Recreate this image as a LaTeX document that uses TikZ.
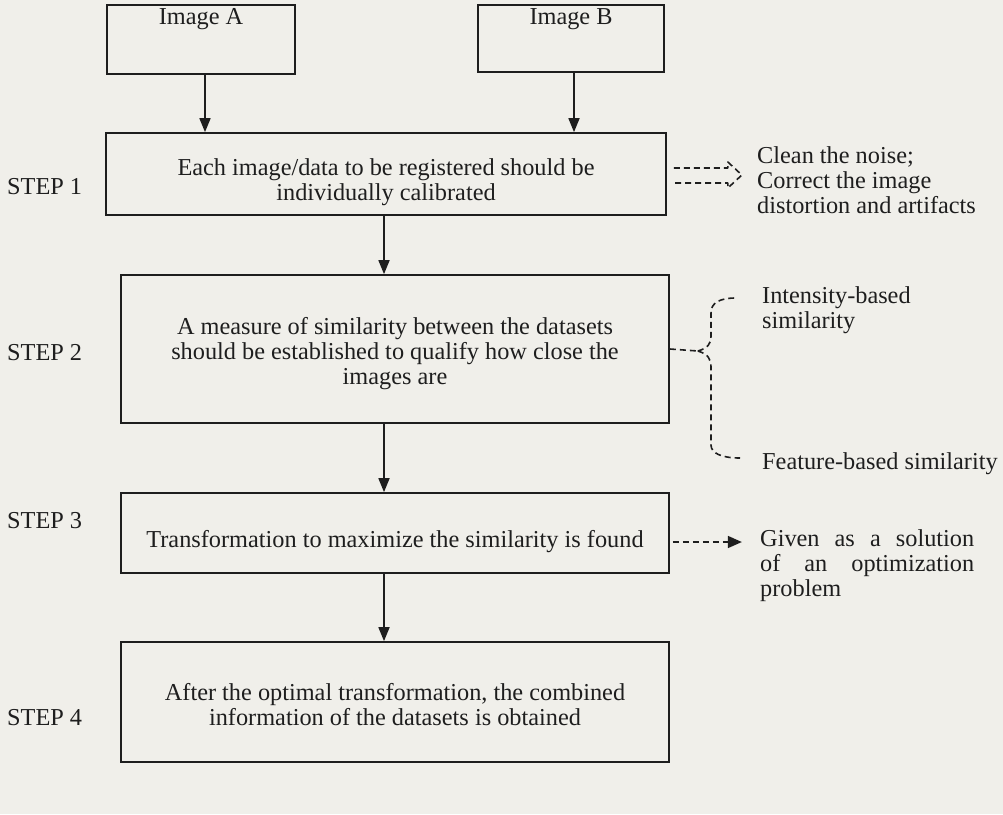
\documentclass[tikz,border=0pt]{standalone}
\usepackage{fontspec}
\setmainfont{Liberation Serif}
\usetikzlibrary{arrows.meta,calc}
\definecolor{paper}{RGB}{240,239,234}
\definecolor{ink}{RGB}{30,30,30}
\begin{document}
\begin{tikzpicture}[x=1pt,y=-1pt,
  every node/.style={font=\fontsize{24.3}{25}\selectfont, text=ink},
  box/.style={draw=ink, line width=1.7pt, inner sep=0pt},
  txt/.style={align=center, inner sep=0pt},
  side/.style={align=left, anchor=west, inner sep=0pt},
  arr/.style={draw=ink, line width=1.7pt, -{Triangle[length=14pt,width=11pt]}},
  dsh/.style={draw=ink, line width=1.6pt, dash pattern=on 6pt off 4pt}]
\fill[paper] (0,0) rectangle (1003,814);
\useasboundingbox (0,0) rectangle (1003,814);
% boxes
\node[box, minimum width=188pt, minimum height=69pt] (A) at (201,39.5) {};
\node[box, minimum width=186pt, minimum height=67pt] (B) at (571,38.5) {};
\node[box, minimum width=560pt, minimum height=82pt] (S1) at (386,174) {};
\node[box, minimum width=548pt, minimum height=148pt] (S2) at (395,349) {};
\node[box, minimum width=548pt, minimum height=80pt] (S3) at (395,533) {};
\node[box, minimum width=548pt, minimum height=120pt] (S4) at (395,702) {};
% texts in boxes
\node[txt] (tA) at (201,19) {Image A};
\node[txt] (tB) at (571,19) {Image B};
\node[txt] (t1) at (386,182) {Each image/data to be registered should be\\individually calibrated};
\node[txt] (t2) at (395,354) {A measure of similarity between the datasets\\should be established to qualify how close the\\images are};
\node[txt] (t3) at (395,542) {Transformation to maximize the similarity is found};
\node[txt] (t4) at (395,705) {After the optimal transformation, the combined\\information of the datasets is obtained};
% step labels
\node[side] (l1) at (7,187) {STEP 1};
\node[side] (l2) at (7,353) {STEP 2};
\node[side] (l3) at (7,521) {STEP 3};
\node[side] (l4) at (7,718) {STEP 4};
% main arrows
\draw[arr] (205,0 |- A.south) -- (205,0 |- S1.north);
\draw[arr] (574,0 |- B.south) -- (574,0 |- S1.north);
\draw[arr] (384,0 |- S1.south) -- (384,0 |- S2.north);
\draw[arr] (384,0 |- S2.south) -- (384,0 |- S3.north);
\draw[arr] (384,0 |- S3.south) -- (384,0 |- S4.north);
% dashed block arrow (step 1)
\draw[dsh, line join=round] ($(S1.east)+(7,-6)$) -- ++(54,0) -- ++(0,-6) -- ++(14,13) -- ++(-14,13) -- ++(0,-5) -- ++(-54,0);
\node[side] (r1) at (757,180) {Clean the noise;\\Correct the image\\distortion and artifacts};
% dashed brace (step 2)
\coordinate (cusp) at ($(S2.east)+(28,2)$);
\draw[dsh] (S2.east) -- (cusp);
\draw[dsh] (cusp) .. controls (708,348) and (711,344) .. (711,336) -- (711,313) .. controls (711,303) and (719,298) .. (736,298);
\draw[dsh] (cusp) .. controls (708,354) and (711,359) .. (711,367) -- (711,445) .. controls (711,453) and (721,458) .. (740,458);
\node[side] (r2a) at (762,310) {Intensity-based\\similarity};
\node[side] (r2b) at (762,464) {Feature-based similarity};
% dashed arrow (step 3)
\coordinate (e3) at ($(S3.east)+(72,9)$);
\draw[dsh, -{Triangle[length=14pt,width=12pt]}] ($(S3.east)+(3,9)$) -- (e3);
\node[side] (r3) at (760,566) {\makebox[214pt][s]{Given as a solution}\\\makebox[214pt][s]{of an optimization}\\problem};
\end{tikzpicture}
\end{document}
